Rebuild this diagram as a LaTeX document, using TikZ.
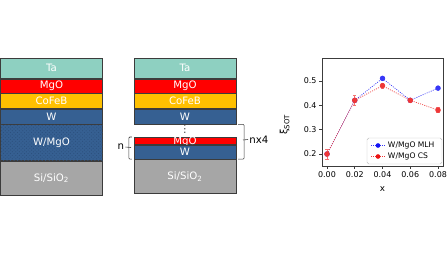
\documentclass[tikz,border=0pt]{standalone}
\usepackage{fontspec}
\setmainfont{DejaVu Sans}
\usetikzlibrary{positioning,patterns}

\definecolor{taC}{RGB}{142,208,193}
\definecolor{mgoC}{RGB}{255,0,0}
\definecolor{cofebC}{RGB}{255,192,0}
\definecolor{wC}{RGB}{54,96,146}
\definecolor{wdotC}{RGB}{44,80,126}
\definecolor{siC}{RGB}{166,166,166}
\definecolor{edgeC}{RGB}{60,60,60}
\definecolor{mlhC}{RGB}{20,20,245}
\definecolor{csC}{RGB}{235,20,20}

\begin{document}
\begin{tikzpicture}[x=0.03cm, y=-0.03cm,
    layer/.style={draw=edgeC, line width=0.5pt, minimum width=3.06cm,
        inner sep=0pt, text=white, font=\fontsize{8.7}{9}\selectfont},
    bracket/.style={draw=edgeC, line width=0.5pt, rounded corners=0.8pt},
    tick/.style={font=\fontsize{6.8}{7}\selectfont, inner sep=1.5pt},
    dotline/.style={line width=0.6pt, dash pattern=on 0.8pt off 1.1pt},
    series/.style={dotline, mark=*, mark size=2pt, mark options={solid}}]
    \useasboundingbox (0,0) rectangle (448,252);

    % plain stack
    \node (ta) [layer, fill=taC, minimum height=0.6cm, anchor=north] at (51.5,58) {Ta};
    \node (mgo) [layer, fill=mgoC, minimum height=0.42cm, below=0pt of ta] {MgO};
    \node (cofeb) [layer, fill=cofebC, minimum height=0.45cm, below=0pt of mgo] {CoFeB};
    \node (w) [layer, fill=wC, minimum height=0.45cm, below=0pt of cofeb] {W};
    \node (wmgo) [layer, fill=wC, postaction={pattern=crosshatch dots, pattern color=wdotC},
        minimum height=1.08cm, below=0pt of w] {W/MgO};
    \node (si) [layer, fill=siC, minimum height=1.02cm, below=0pt of wmgo] {Si/SiO\textsubscript{2}};

    % multilayer stack
    \node (ta2) [layer, fill=taC, minimum height=0.6cm, anchor=north] at (185,58) {Ta};
    \node (mgo2) [layer, fill=mgoC, minimum height=0.42cm, below=0pt of ta2] {MgO};
    \node (cofeb2) [layer, fill=cofebC, minimum height=0.45cm, below=0pt of mgo2] {CoFeB};
    \node (w2) [layer, fill=wC, minimum height=0.45cm, below=0pt of cofeb2] {W};
    \node (vdots) [font=\fontsize{9}{9}\selectfont, text=edgeC, inner sep=0pt] at (185,129.5) {⋮};
    \node (mgo3) [layer, fill=mgoC, minimum height=0.21cm, text height=0.2cm, text depth=0pt,
        anchor=north] at (185,137) {MgO};
    \node (w3) [layer, fill=wC, minimum height=0.42cm, below=0pt of mgo3] {W};
    \node (si2) [layer, fill=siC, minimum height=1.02cm, below=0pt of w3] {Si/SiO\textsubscript{2}};

    \path [bracket] ([xshift=-1.5pt]mgo3.north west) -- ++(-3,0) |- ([xshift=-1.5pt]w3.south west);
    \coordinate (nmid) at (131,147.5);
    \node (n) [anchor=east, font=\fontsize{8.7}{9}\selectfont, inner sep=1pt] at (125.5,147) {n};
    \path [bracket] (nmid) -- (n.east);
    %
    \path [bracket] ([xshift=1.5pt]w2.south east) -- ++(6,0) |- ([xshift=1.5pt]w3.south east);
    \coordinate (nxmid) at (243,140);
    \node (nxfour) [anchor=west, font=\fontsize{8.7}{9}\selectfont, inner sep=1pt] at (248,139.5) {nx4};
    \path [bracket] (nxmid) -- (nxfour.west);

    % chart
    \begin{scope}[xshift=9.81cm, yshift=-6.084cm, x=41.625cm, y=7.32cm]
        \draw [edgeC, line width=0.6pt] (-0.0036,0.151) rectangle (0.0836,0.593);
        \foreach \v in {0.2,0.3,0.4,0.5}
            \draw [edgeC, line width=0.5pt] (-0.0036,\v) -- ++(-3pt,0) node [tick, anchor=east, text=black] {\v};
        \foreach \v in {0.00,0.02,0.04,0.06,0.08}
            \draw [edgeC, line width=0.5pt] (\v,0.151) -- ++(0,-3pt) node [tick, anchor=north, text=black] {\v};
        \node (xlab) [font=\fontsize{7.5}{8}\selectfont] at (0.04,0.058) {x};
        \node (ylab) [font=\fontsize{8.5}{8}\selectfont, rotate=90] at (-0.0305,0.32) {ξ\textsubscript{SOT}};

        \draw [series, mlhC!85] plot coordinates {(0,0.2) (0.02,0.42) (0.04,0.51) (0.06,0.42) (0.08,0.47)};
        % error bars
        \foreach \xv/\lo/\hi in {0/0.18/0.22, 0.02/0.40/0.44, 0.04/0.47/0.49, 0.06/0.41/0.43, 0.08/0.37/0.39}
            \draw [csC!60, line width=0.5pt] (\xv-0.0012,\lo) -- (\xv+0.0012,\lo)
                (\xv,\lo) -- (\xv,\hi) (\xv-0.0012,\hi) -- (\xv+0.0012,\hi);
        \draw [series, csC!85] plot coordinates {(0,0.2) (0.02,0.42) (0.04,0.48) (0.06,0.42) (0.08,0.38)};
    \end{scope}

    % legend
    \draw [fill=white, fill opacity=0.85, draw=black!25, line width=0.4pt, rounded corners=1.5pt]
        (367,138) rectangle (442,164);
    \coordinate (l1a) at (371,145.5);
    \coordinate (l1b) at (385,145.5);
    \draw [dotline, mlhC!85] (l1a) -- (l1b);
    \fill [mlhC] (378,145.5) circle [radius=2pt];
    \node (leg1) [tick, anchor=west, font=\fontsize{6.5}{7}\selectfont] at (386,145.5) {W/MgO MLH};
    \coordinate (l2a) at (371,156.5);
    \coordinate (l2b) at (385,156.5);
    \draw [dotline, csC!85] (l2a) -- (l2b);
    \fill [csC] (378,156.5) circle [radius=2pt];
    \node (leg2) [tick, anchor=west, font=\fontsize{6.5}{7}\selectfont] at (386,156.5) {W/MgO CS};
\end{tikzpicture}
\end{document}
